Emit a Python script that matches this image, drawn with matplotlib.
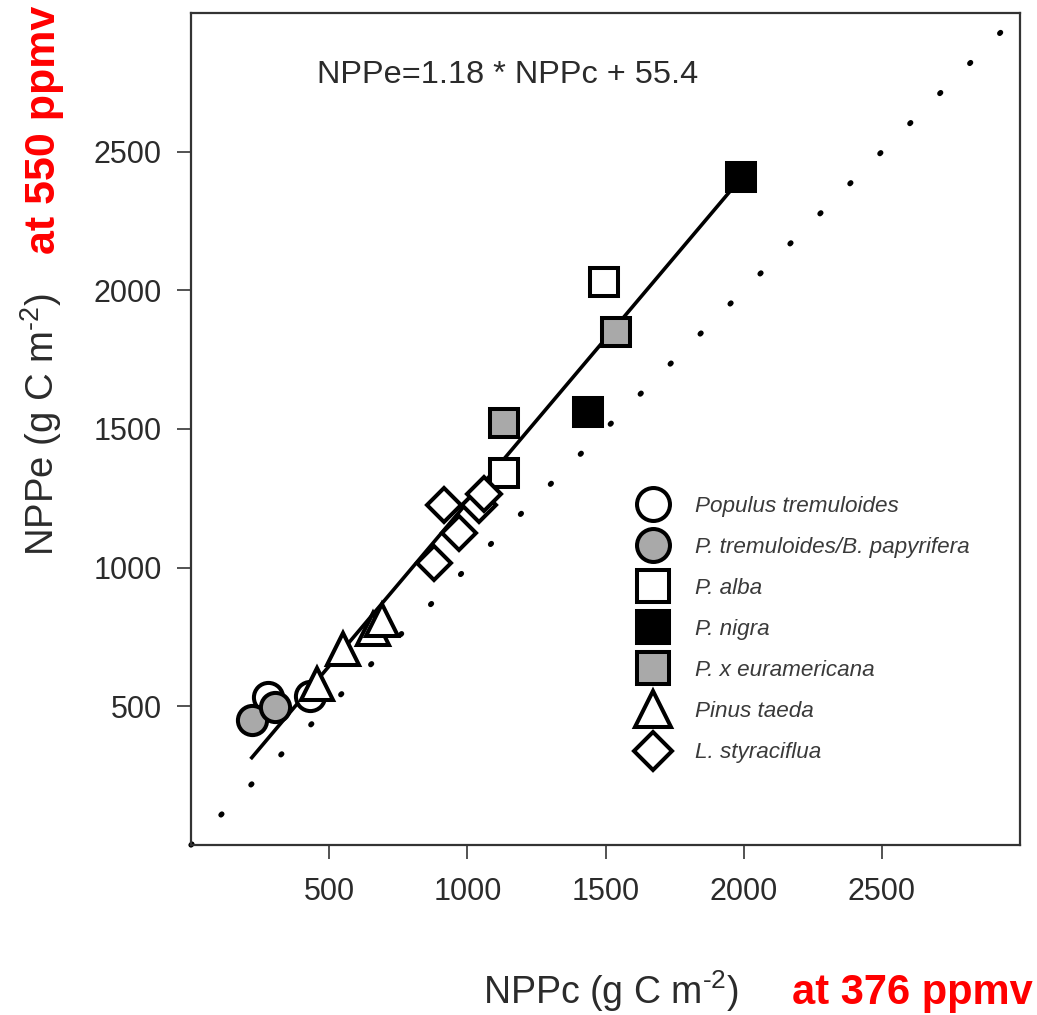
import numpy as np
import matplotlib
matplotlib.use('Agg')
import matplotlib.pyplot as plt

plt.rcParams['font.family'] = ['Liberation Sans', 'DejaVu Sans']
plt.rcParams['mathtext.fontset'] = 'custom'
plt.rcParams['mathtext.rm'] = 'Liberation Sans'

# datos (g C m-2)
species = ['Populus tremuloides', 'P. tremuloides/B. papyrifera', 'P. alba',
           'P. nigra', 'P. x euramericana', 'Pinus taeda', 'L. styraciflua']

ptrem_c = [280, 430]
ptrem_e = [535, 538]
pbpap_c = [220, 305]
pbpap_e = [451, 497]
palba_c = [1134, 1495]
palba_e = [1343, 2029]
pnigra_c = [1437, 1989]
pnigra_e = [1560, 2408]
peuram_c = [1134, 1538]
peuram_e = [1523, 1848]
ptaeda_c = [455, 549, 660, 690]
ptaeda_e = [580, 706, 780, 812]
lstyr_c = [881, 971, 917, 1043, 1061]
lstyr_e = [1018, 1126, 1227, 1227, 1264]

fit_slope = 1.18
fit_intercept = 55.4
fit_range = [220, 2000]
one_to_one = [0, 2945]

x_ticks = [500, 1000, 1500, 2000, 2500]
y_ticks = [500, 1000, 1500, 2000, 2500]

gris = '#a9a9a9'
txt = '#2b2b2b'

fig = plt.figure(figsize=(10.37, 10.15), dpi=100)
ax = fig.add_axes([191 / 1037, 1 - 845 / 1015, 829 / 1037, 832 / 1015])

# linea 1:1 punteada
ax.plot(one_to_one, one_to_one, color='black', lw=3.8,
        linestyle=(0, (0.25, 7.79)), dash_capstyle='round', zorder=1, clip_on=False)

# recta de regresion
xf = np.array(fit_range)
ax.plot(xf, fit_slope * xf + fit_intercept, color='black', lw=2.6, zorder=2)

series = [
    (ptrem_c, ptrem_e, 'o', 'white', 21),
    (pbpap_c, pbpap_e, 'o', gris, 21),
    (palba_c, palba_e, 's', 'white', 20),
    (pnigra_c, pnigra_e, 's', 'black', 20),
    (peuram_c, peuram_e, 's', gris, 20),
    (ptaeda_c, ptaeda_e, '^', 'white', 23),
    (lstyr_c, lstyr_e, 'D', 'white', 17),
]

handles = []
for (xs, ys, m, fc, ms), nombre in zip(series, species):
    h, = ax.plot(xs, ys, linestyle='none', marker=m, ms=ms, mfc=fc, mec='black',
                 mew=2.9, zorder=3, label=nombre)
    handles.append(h)

ax.set_xlim(0, 3000)
ax.set_ylim(0, 3000)
ax.set_xticks(x_ticks)
ax.set_yticks(y_ticks)
ax.tick_params(direction='out', length=10, width=1.3, colors='#444444',
               labelsize=22, labelcolor=txt)
ax.tick_params(axis='x', pad=13)
ax.tick_params(axis='y', pad=11)
for s in ax.spines.values():
    s.set_linewidth(1.6)
    s.set_color('#333333')

ax.text(0.152, 0.925, 'NPPe=1.18 * NPPc + 55.4', transform=ax.transAxes,
        fontsize=23.4, color=txt, va='center')

leg = ax.legend(handles=handles, loc='upper left', bbox_to_anchor=(0.528, 0.43),
                frameon=False, prop={'style': 'italic', 'size': 16.2},
                labelspacing=0.89, handletextpad=1.15, markerscale=1.13,
                handlelength=1.4, borderaxespad=0)
for t in leg.get_texts():
    t.set_color('#3a3a3a')

ax.set_xlabel('NPPc (g C m$^{\\text{-2}}$)', fontsize=27, color=txt)
ax.set_ylabel('NPPe (g C m$^{\\text{-2}}$)', fontsize=27.5, color=txt)
ax.xaxis.set_label_coords(0.507, -0.176)
ax.yaxis.set_label_coords(-0.181, 0.505)
ax.xaxis.label.set_va('center')
ax.yaxis.label.set_va('center')

fig.text(44 / 1037, 1 - 130 / 1015, 'at 550 ppmv', rotation=90, color='red',
         fontsize=31, fontweight='bold', ha='center', va='center')
fig.text(792 / 1037, 1 - 1004 / 1015, 'at 376 ppmv', color='red',
         fontsize=30, fontweight='bold', ha='left', va='baseline')

fig.savefig('out.png', dpi=100)
